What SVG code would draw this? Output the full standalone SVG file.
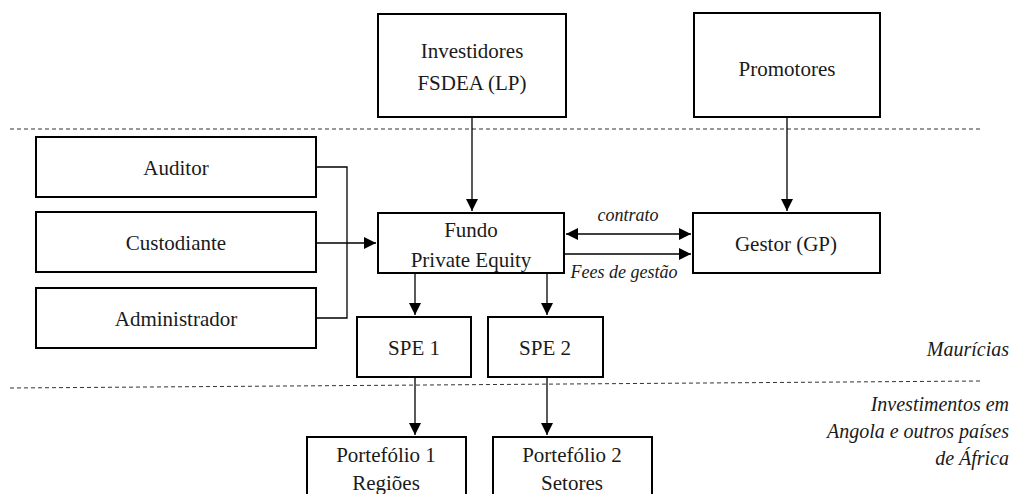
<svg xmlns="http://www.w3.org/2000/svg" width="1014" height="494" viewBox="0 0 1014 494">
  <style>
    .box { fill: #fff; stroke: #000; stroke-width: 2; }
    .lbl { font-size: 21px; fill: #1a1a1a; text-anchor: middle; }
    .it { font-style: italic; fill: #1a1a1a; }
    .reg { font-size: 20px; text-anchor: end; }
    .edge { fill: none; stroke: #000; stroke-width: 1.3; }
    .sep { fill: none; stroke: #333; stroke-width: 1; stroke-dasharray: 4 3; }
  </style>
  <defs>
    <marker id="ah" viewBox="0 0 12 12" refX="12" refY="6" markerWidth="12" markerHeight="12" markerUnits="userSpaceOnUse" orient="auto-start-reverse">
      <path d="M0,0 L12,6 L0,12 Z" fill="#000"/>
    </marker>
  </defs>

  <rect width="1014" height="494" fill="#fff"/>

  <!-- jurisdiction separators -->
  <g id="separators">
    <line class="sep" x1="10" y1="129" x2="982" y2="129"/>
    <line class="sep" x1="10" y1="388" x2="982" y2="381"/>
  </g>

  <!-- connectors -->
  <g id="connectors">
    <path class="edge" d="M472,117 V211" marker-end="url(#ah)"/>
    <path class="edge" d="M787,117 V211" marker-end="url(#ah)"/>
    <path class="edge" d="M316,167 H347 V318 H316"/>
    <path class="edge" d="M316,243 H376" marker-end="url(#ah)"/>
    <path class="edge" d="M566,234 H691" marker-start="url(#ah)" marker-end="url(#ah)"/>
    <path class="edge" d="M564,254 H691" marker-end="url(#ah)"/>
    <path class="edge" d="M415,273 V315" marker-end="url(#ah)"/>
    <path class="edge" d="M547,273 V315" marker-end="url(#ah)"/>
    <path class="edge" d="M415,377 V435" marker-end="url(#ah)"/>
    <path class="edge" d="M547,377 V435" marker-end="url(#ah)"/>
  </g>

  <g font-family="Liberation Serif, Times New Roman, Tinos, Noto Serif, DejaVu Serif, FreeSerif, serif">
    <!-- edge labels -->
    <g id="edge-labels">
      <text class="it" x="628" y="221" font-size="18" text-anchor="middle">contrato</text>
      <text class="it" x="624" y="278" font-size="18" text-anchor="middle">Fees de gestão</text>
    </g>

    <g id="investidores">
      <rect class="box" x="378" y="14" width="188" height="103"/>
      <text class="lbl" x="472" y="58">Investidores</text>
      <text class="lbl" x="472" y="90">FSDEA (LP)</text>
    </g>
    <g id="promotores">
      <rect class="box" x="694" y="13" width="186" height="104"/>
      <text class="lbl" x="787" y="76">Promotores</text>
    </g>
    <g id="auditor">
      <rect class="box" x="36" y="137" width="280" height="60"/>
      <text class="lbl" x="176" y="175">Auditor</text>
    </g>
    <g id="custodiante">
      <rect class="box" x="36" y="212" width="280" height="60"/>
      <text class="lbl" x="176" y="250">Custodiante</text>
    </g>
    <g id="administrador">
      <rect class="box" x="36" y="288" width="280" height="60"/>
      <text class="lbl" x="176" y="326">Administrador</text>
    </g>
    <g id="fundo">
      <rect class="box" x="378" y="213" width="186" height="60"/>
      <text class="lbl" x="471" y="237">Fundo</text>
      <text class="lbl" x="471" y="267">Private Equity</text>
    </g>
    <g id="gestor">
      <rect class="box" x="693" y="213" width="187" height="60"/>
      <text class="lbl" x="786" y="251">Gestor (GP)</text>
    </g>
    <g id="spe1">
      <rect class="box" x="357" y="317" width="114" height="60"/>
      <text class="lbl" x="414" y="355">SPE 1</text>
    </g>
    <g id="spe2">
      <rect class="box" x="488" y="317" width="115" height="60"/>
      <text class="lbl" x="545" y="355">SPE 2</text>
    </g>
    <g id="portefolio1">
      <rect class="box" x="307" y="437" width="159" height="70"/>
      <text class="lbl" x="386" y="462">Portefólio 1</text>
      <text class="lbl" x="386" y="490">Regiões</text>
    </g>
    <g id="portefolio2">
      <rect class="box" x="493" y="437" width="159" height="70"/>
      <text class="lbl" x="572" y="462">Portefólio 2</text>
      <text class="lbl" x="572" y="490">Setores</text>
    </g>

    <!-- region captions -->
    <g id="regions">
      <text class="it reg" x="1009" y="356">Maurícias</text>
      <text class="it reg" x="1009" y="411">Investimentos em</text>
      <text class="it reg" x="1009" y="438">Angola e outros países</text>
      <text class="it reg" x="1009" y="465">de África</text>
    </g>
  </g>
</svg>
